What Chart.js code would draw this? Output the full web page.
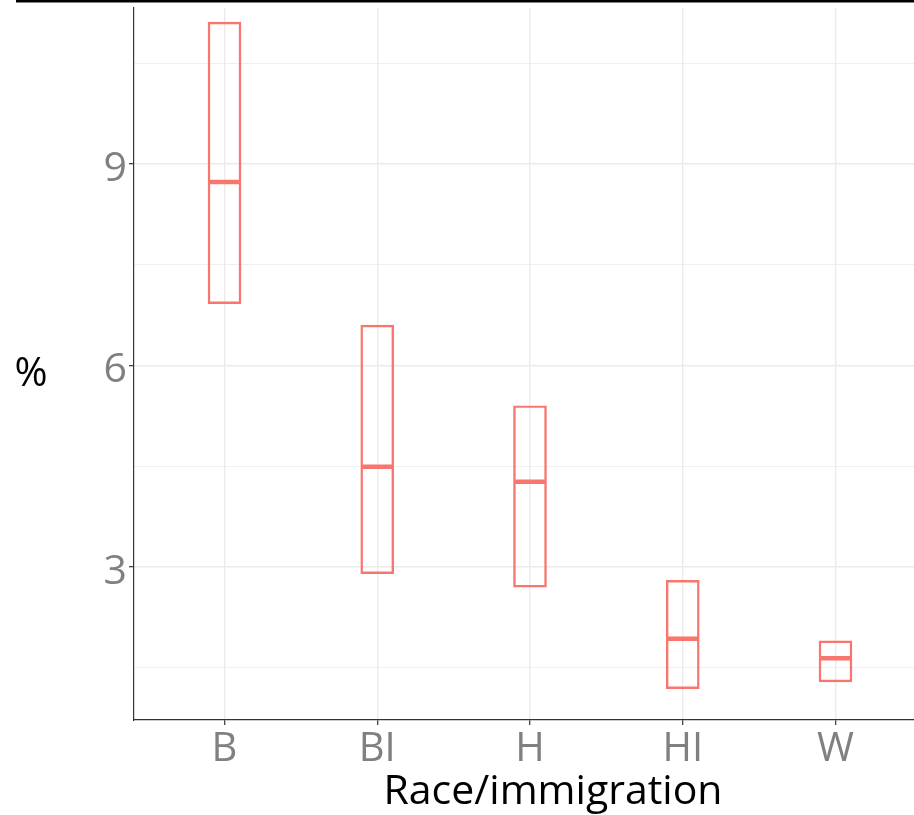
<!DOCTYPE html>
<html>
<head>
<meta charset="utf-8">
<script src="https://cdn.jsdelivr.net/npm/chart.js@4/dist/chart.umd.min.js"></script>
<style>
  html, body { margin: 0; padding: 0; background: #ffffff; overflow: hidden; }
  #wrap { position: relative; width: 914px; height: 815px; }
</style>
</head>
<body>
<div id="wrap"><canvas id="chart" width="914" height="815"></canvas></div>
<script>
// Groups along the x axis
const categories = ['B', 'BI', 'H', 'HI', 'W'];
// Crossbar values (%): lower bound, middle estimate, upper bound
const lowerValues = [6.92, 2.90, 2.70, 1.19, 1.29];
const middleValues = [8.73, 4.49, 4.27, 1.93, 1.64];
const upperValues = [11.11, 6.60, 5.40, 2.80, 1.90];
// Labelled y ticks and the lighter in-between grid lines
const yMajorTicks = [3, 6, 9];
const yMinorTicks = [1.5, 4.5, 7.5, 10.5];

const boxColor = '#F8766D';
const gridColor = '#EBEBEB';
const axisColor = '#333333';
const tickTextColor = '#808080';
const FONT = '"Open Sans", "Liberation Sans", sans-serif';

const boxData = categories.map((c, i) => ({ x: i, y: [lowerValues[i], upperValues[i]] }));
const midData = categories.map((c, i) => ({ x: i, y: middleValues[i] }));
const yGridValues = [...yMinorTicks, ...yMajorTicks].sort((a, b) => a - b);

// Axis titles and the rule across the top edge
const decorations = {
  id: 'decorations',
  afterDraw(chart) {
    const ctx = chart.ctx;
    ctx.save();
    ctx.fillStyle = '#000000';
    ctx.fillRect(16, 0, 898, 2.5);
    ctx.textBaseline = 'alphabetic';
    ctx.textAlign = 'center';
    ctx.font = '41px ' + FONT;
    ctx.fillText('Race/immigration', 553, 804);
    ctx.font = '40px ' + FONT;
    ctx.fillText('%', 31, 386);
    ctx.restore();
  }
};

new Chart(document.getElementById('chart'), {
  data: {
    datasets: [
      {
        type: 'bar',
        data: boxData,
        backgroundColor: 'rgba(0,0,0,0)',
        borderColor: boxColor,
        borderWidth: 1.8,
        borderSkipped: false,
        barThickness: 33,
        order: 2
      },
      {
        type: 'scatter',
        data: midData,
        pointStyle: 'line',
        pointRadius: 16,
        pointHoverRadius: 16,
        borderColor: boxColor,
        borderWidth: 4.5,
        order: 1
      }
    ]
  },
  options: {
    responsive: false,
    animation: false,
    events: [],
    layout: { autoPadding: false, padding: { top: 8, left: 0, right: 0, bottom: 0 } },
    plugins: { legend: { display: false }, tooltip: { enabled: false }, title: { display: false } },
    scales: {
      x: {
        type: 'linear',
        min: -0.5925,
        max: 4.514,
        offset: false,
        afterBuildTicks(scale) { scale.ticks = categories.map((c, i) => ({ value: i })); },
        afterFit(scale) {
          scale.height = 95;
          scale.paddingLeft = 0;
          scale.paddingRight = 0;
        },
        ticks: {
          callback: (v) => categories[v] ?? '',
          color: tickTextColor,
          font: { family: FONT, size: 40 },
          padding: 1,
          maxRotation: 0,
          autoSkip: false
        },
        grid: {
          offset: false,
          color: gridColor,
          lineWidth: 1.4,
          tickColor: axisColor,
          tickLength: 5,
          tickWidth: 1.2
        },
        border: { color: axisColor, width: 1.2 }
      },
      y: {
        type: 'linear',
        min: 0.722,
        max: 11.32,
        afterBuildTicks(scale) { scale.ticks = yGridValues.map(v => ({ value: v })); },
        afterFit(scale) {
          scale.width = 134;
          scale.paddingTop = 0;
          scale.paddingBottom = 0;
        },
        ticks: {
          callback: (v) => yMajorTicks.includes(v) ? String(v) : '',
          color: tickTextColor,
          font: { family: FONT, size: 41 },
          padding: 2,
          labelOffset: 5,
          autoSkip: false
        },
        grid: {
          color: gridColor,
          lineWidth: (ctx) => yMajorTicks.includes(ctx.tick.value) ? 1.4 : 0.8,
          tickColor: (ctx) => yMajorTicks.includes(ctx.tick.value) ? axisColor : 'rgba(0,0,0,0)',
          tickLength: 5,
          tickWidth: 1.2
        },
        border: { color: axisColor, width: 1.2 }
      }
    }
  },
  plugins: [decorations]
});
</script>
</body>
</html>
